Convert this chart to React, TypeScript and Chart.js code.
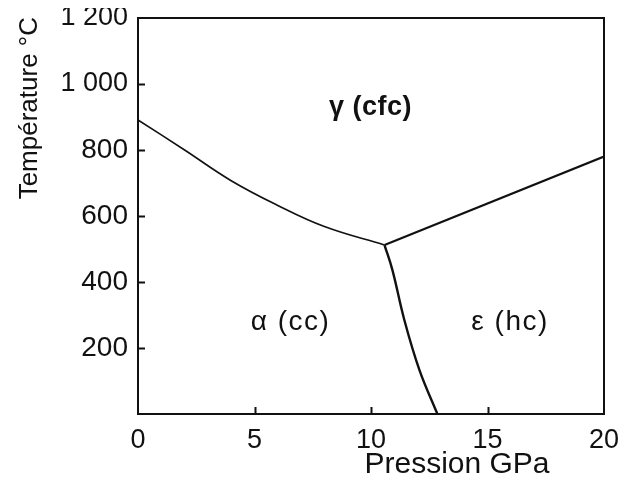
import React, { useEffect, useRef } from "react";
import { Chart, registerables } from "chart.js";

Chart.register(...registerables);

// α / γ boundary
const P_ALPHA_GAMMA = [0, 2.0, 4.0, 6.0, 8.0, 10.58];
const T_ALPHA_GAMMA = [891, 800, 707, 632, 568, 512];
// γ / ε boundary
const P_GAMMA_EPS = [10.58, 20];
const T_GAMMA_EPS = [512, 780];
// α / ε boundary
const P_ALPHA_EPS = [10.58, 10.92, 11.43, 12.08, 12.85];
const T_ALPHA_EPS = [512, 436, 285, 133, 0];

// phase labels
const PHASE_LABELS = ["γ (cfc)", "α (cc)", "ε (hc)"];
const PHASE_P = [9.98, 6.55, 15.97];
const PHASE_T = [930, 279, 279];

const Y_TICKS = [200, 400, 600, 800, 1000];
const X_TICKS = [5, 10, 15];
const X_TITLE = "Pression GPa";
const Y_TITLE = "Température °C";

const FONT = "'Liberation Sans', Arial, Helvetica, sans-serif";

const toPts = (xs: number[], ys: number[]) => xs.map((x, i) => ({ x, y: ys[i] }));

const frFormat = (v: number) => {
  if (v === 0) return "";
  const s = String(v);
  return s.length > 3 ? s.slice(0, s.length - 3) + " " + s.slice(s.length - 3) : s;
};

const decorPlugin = {
  id: "decor",
  afterDraw(chart: any) {
    const { ctx, chartArea: a, scales } = chart;
    const xs = scales.x;
    const ys = scales.y;
    ctx.save();
    ctx.strokeStyle = "#111";
    ctx.lineWidth = 2;
    ctx.strokeRect(a.left, a.top, a.right - a.left, a.bottom - a.top);
    ctx.beginPath();
    Y_TICKS.forEach((v) => {
      const y = Math.round(ys.getPixelForValue(v)) + 0.5;
      ctx.moveTo(a.left, y);
      ctx.lineTo(a.left + 7, y);
    });
    X_TICKS.forEach((v) => {
      const x = Math.round(xs.getPixelForValue(v)) + 0.5;
      ctx.moveTo(x, a.bottom);
      ctx.lineTo(x, a.bottom - 7);
    });
    ctx.stroke();

    // phase labels
    ctx.fillStyle = "#111";
    ctx.textAlign = "center";
    ctx.textBaseline = "middle";
    PHASE_LABELS.forEach((t, i) => {
      if (i === 0) {
        ctx.font = `bold 27px ${FONT}`;
        (ctx as any).letterSpacing = "0.5px";
      } else {
        ctx.font = `28px ${FONT}`;
        (ctx as any).letterSpacing = "1.5px";
      }
      ctx.fillText(t, xs.getPixelForValue(PHASE_P[i]), ys.getPixelForValue(PHASE_T[i]));
    });
    (ctx as any).letterSpacing = "0px";

    // x title
    ctx.font = `30px ${FONT}`;
    ctx.textAlign = "center";
    ctx.textBaseline = "middle";
    ctx.fillText(X_TITLE, 449, 457);

    // y title
    ctx.translate(22, 9);
    ctx.rotate(-Math.PI / 2);
    ctx.font = `26px ${FONT}`;
    ctx.textAlign = "right";
    ctx.textBaseline = "middle";
    ctx.fillText(Y_TITLE, 0, 0);
    ctx.restore();
  },
};

export default function App() {
  const ref = useRef<HTMLCanvasElement | null>(null);
  useEffect(() => {
    if (!ref.current) return;
    const lineStyle = {
      showLine: true,
      pointRadius: 0,
      borderColor: "#111",
      fill: false,
    };
    const chart = new Chart(ref.current, {
      type: "scatter",
      data: {
        datasets: [
          { ...lineStyle, data: toPts(P_ALPHA_GAMMA, T_ALPHA_GAMMA), borderWidth: 1.6, tension: 0.4 },
          { ...lineStyle, data: toPts(P_GAMMA_EPS, T_GAMMA_EPS), borderWidth: 2.2 },
          { ...lineStyle, data: toPts(P_ALPHA_EPS, T_ALPHA_EPS), borderWidth: 2.4, tension: 0.4 },
        ],
      } as any,
      options: {
        animation: false,
        responsive: false,
        maintainAspectRatio: false,
        layout: { padding: { top: 10, right: 14, left: 0, bottom: 0 } },
        plugins: { legend: { display: false }, tooltip: { enabled: false } },
        scales: {
          x: {
            type: "linear",
            min: 0,
            max: 20,
            grid: { display: false, drawTicks: false },
            border: { display: false },
            ticks: {
              stepSize: 5,
              padding: 10,
              color: "#111",
              font: { family: FONT, size: 27 },
              maxRotation: 0,
            },
            afterFit: (s: any) => {
              s.height = 66;
              s.paddingLeft = 0;
              s.paddingRight = 0;
            },
          },
          y: {
            type: "linear",
            min: 0,
            max: 1200,
            grid: { display: false, drawTicks: false },
            border: { display: false },
            ticks: {
              stepSize: 200,
              padding: 10,
              color: "#111",
              callback: (v: any) => frFormat(Number(v)),
              font: (c: any) => ({
                family: FONT,
                size: c.tick && c.tick.value >= 1000 ? 27 : 28,
              }),
            },
            afterFit: (s: any) => {
              s.width = 130;
              s.paddingTop = 0;
              s.paddingBottom = 0;
            },
          },
        },
      } as any,
      plugins: [decorPlugin],
    });
    return () => chart.destroy();
  }, []);
  return (
    <div style={{ width: 610, height: 472 }}>
      <canvas ref={ref} width={610} height={472} style={{ width: 610, height: 472 }} />
    </div>
  );
}
